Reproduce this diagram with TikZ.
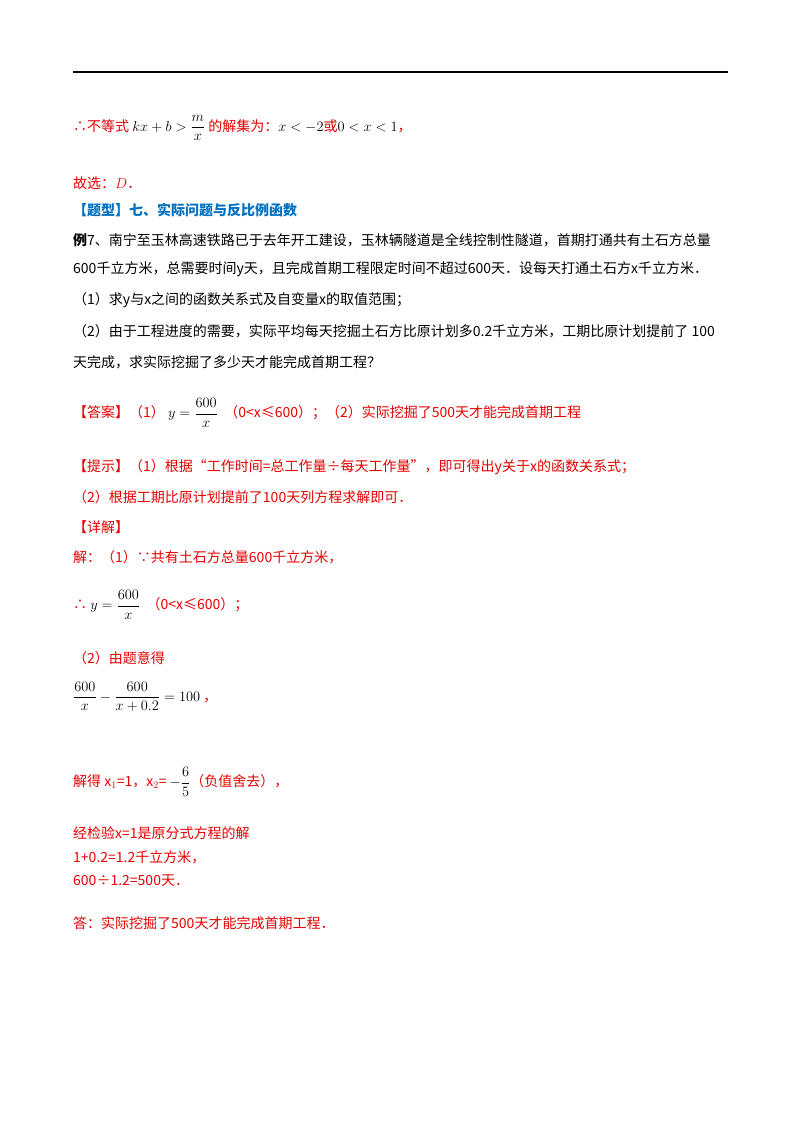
\documentclass[tikz,border=0pt]{standalone}
\usepackage{amsmath}
\usepackage{amssymb}
\usepackage{fontspec}
\setmainfont{Noto Sans CJK SC}
\usetikzlibrary{positioning}
\definecolor{ansred}{RGB}{230,0,0}
\definecolor{headblue}{RGB}{0,112,192}
\tikzstyle{line}=[anchor=west, inner sep=0, font=\fontsize{14}{16}\selectfont]
\tikzstyle{redline}=[line, text=ansred]
\tikzstyle{blueline}=[line, text=headblue, font=\fontsize{14}{16}\selectfont\bfseries]
\newcommand{\bk}[1]{\textcolor{black}{#1}}
\begin{document}
\begin{tikzpicture}[x=1pt, y=-1pt]
        \useasboundingbox (0, 0) rectangle (800, 1132);
        \coordinate (ruleL) at (73, 72);
        \coordinate (ruleR) at (728, 72);
        \draw[line width=1.6pt] (ruleL) -- (ruleR);
        % answer of the previous problem
        \node[redline] (sol) at (73, 128) {∴不等式 \bk{$kx+b>\dfrac{m}{x}$} 的解集为：\bk{$x<-2$}或\bk{$0<x<1$}，};
        \node[redline] (pick) at (73, 183) {故选：$D$．};
        % problem
        \node[blueline] (head) at (73, 210) {【题型】七、实际问题与反比例函数};
        \node[line] (q1) at (73, 240) {\textbf{例}7、南宁至玉林高速铁路已于去年开工建设，玉林辆隧道是全线控制性隧道，首期打通共有土石方总量};
        \node[line] (q2) at (73, 269) {600千立方米，总需要时间y天，且完成首期工程限定时间不超过600天．设每天打通土石方x千立方米．};
        \node[line] (q3) at (73, 300) {（1）求y与x之间的函数关系式及自变量x的取值范围；};
        \node[line] (q4) at (73, 331) {（2）由于工程进度的需要，实际平均每天挖掘土石方比原计划多0.2千立方米，工期比原计划提前了 100};
        \node[line] (q5) at (73, 362) {天完成，求实际挖掘了多少天才能完成首期工程？};
        % answer
        \node[redline] (ans) at (73, 413) {【答案】（1）\ \bk{$y=\dfrac{600}{x}$} \ （0<x≤600）；（2）实际挖掘了500天才能完成首期工程};
        \node[redline] (hint1) at (73, 467) {【提示】（1）根据“工作时间=总工作量÷每天工作量”，即可得出y关于x的函数关系式；};
        \node[redline] (hint2) at (73, 497) {（2）根据工期比原计划提前了100天列方程求解即可．};
        \node[redline] (det) at (73, 527) {【详解】};
        \node[redline] (s1) at (73, 557) {解：（1）∵共有土石方总量600千立方米，};
        \node[redline] (s2) at (73, 605) {∴ \bk{$y=\dfrac{600}{x}$} \ （0<x≤600）；};
        \node[redline] (s3) at (73, 658) {（2）由题意得};
        \node[redline] (s4) at (73, 697) {\bk{$\dfrac{600}{x}-\dfrac{600}{x+0.2}=100$} ，};
        \node[redline] (s5) at (73, 782) {解得 x$_1$=1，x$_2$= \bk{$-\dfrac{6}{5}$}（负值舍去），};
        \node[redline] (s6) at (73, 833) {经检验x=1是原分式方程的解};
        \node[redline] (s7) at (73, 857) {1+0.2=1.2千立方米，};
        \node[redline] (s8) at (73, 881) {600÷1.2=500天．};
        \node[redline] (s9) at (73, 923) {答：实际挖掘了500天才能完成首期工程．};
    \end{tikzpicture}
\end{document}
